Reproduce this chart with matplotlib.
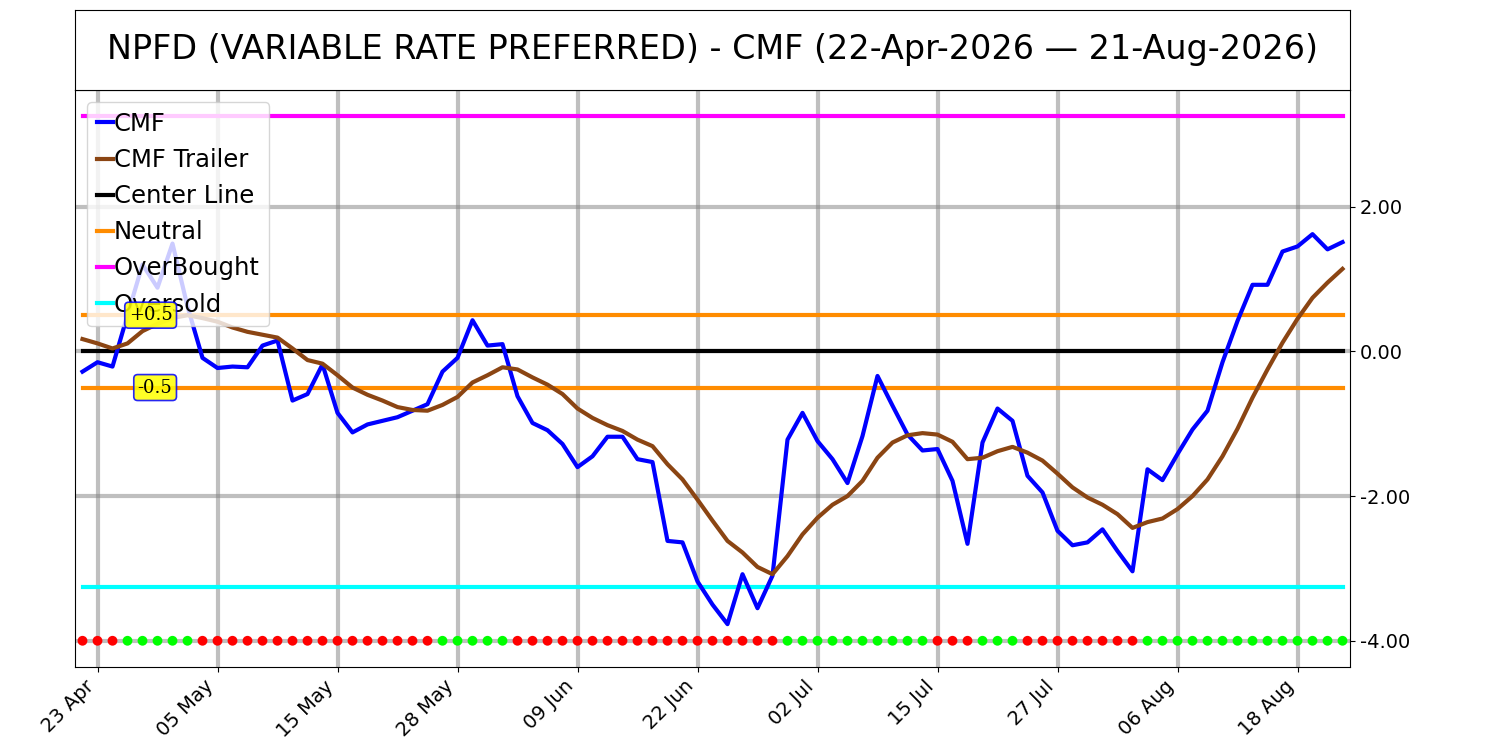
import numpy as np
import pandas as pd
import matplotlib
matplotlib.use("Agg")
import matplotlib.pyplot as plt

# ---------------- data ----------------
start_date = "2026-04-22"
end_date = "2026-08-21"
holidays = ["2026-05-25", "2026-06-19", "2026-07-03"]

cmf = [-0.28, -0.15, -0.21, 0.50, 1.20, 0.88, 1.49, 0.62, -0.09, -0.23,
       -0.21, -0.22, 0.08, 0.15, -0.68, -0.59, -0.18, -0.85, -1.12, -1.01,
       -0.96, -0.91, -0.82, -0.73, -0.28, -0.09, 0.43, 0.08, 0.10, -0.62,
       -0.99, -1.09, -1.28, -1.60, -1.45, -1.18, -1.18, -1.49, -1.53, -2.62,
       -2.64, -3.18, -3.50, -3.77, -3.08, -3.55, -3.10, -1.22, -0.85, -1.24,
       -1.49, -1.82, -1.17, -0.34, -0.75, -1.15, -1.37, -1.35, -1.79, -2.66,
       -1.26, -0.79, -0.96, -1.72, -1.95, -2.48, -2.68, -2.64, -2.46, -2.76,
       -3.04, -1.63, -1.78, -1.42, -1.08, -0.82, -0.15, 0.42, 0.92, 0.92,
       1.38, 1.45, 1.62, 1.41, 1.51]

cmf_trailer = [0.17, 0.11, 0.04, 0.11, 0.28, 0.38, 0.46, 0.50, 0.46, 0.41,
               0.33, 0.27, 0.23, 0.19, 0.04, -0.12, -0.17, -0.33, -0.50, -0.60,
               -0.68, -0.77, -0.81, -0.82, -0.74, -0.63, -0.43, -0.33, -0.22, -0.25,
               -0.36, -0.46, -0.59, -0.79, -0.92, -1.02, -1.10, -1.22, -1.31, -1.56,
               -1.77, -2.05, -2.34, -2.62, -2.78, -2.98, -3.08, -2.83, -2.53, -2.30,
               -2.12, -2.00, -1.79, -1.47, -1.26, -1.16, -1.13, -1.15, -1.25, -1.49,
               -1.47, -1.38, -1.32, -1.40, -1.51, -1.69, -1.88, -2.02, -2.12, -2.25,
               -2.44, -2.36, -2.31, -2.18, -2.00, -1.77, -1.45, -1.07, -0.64, -0.25,
               0.12, 0.45, 0.74, 0.95, 1.14]

# signal dots along the bottom: G = green, R = red
signal = ("RRR" + "GGGGG" + "R" * 16 + "GGGGG" + "R" * 18 + "G" * 10 +
          "RRR" + "GGG" + "R" * 8 + "G" * 14)

center_level = 0.0
neutral_levels = [0.5, -0.5]
overbought_level = 3.25
oversold_level = -3.25
dot_level = -4.0

tick_dates = ["2026-04-23", "2026-05-05", "2026-05-15", "2026-05-28", "2026-06-09",
              "2026-06-22", "2026-07-02", "2026-07-15", "2026-07-27", "2026-08-06",
              "2026-08-18"]
tick_labels = ["23 Apr", "05 May", "15 May", "28 May", "09 Jun", "22 Jun",
               "02 Jul", "15 Jul", "27 Jul", "06 Aug", "18 Aug"]

title = "NPFD (VARIABLE RATE PREFERRED) - CMF (22-Apr-2026 \u2014 21-Aug-2026)"

# ---------------- build ----------------
dates = pd.bdate_range(start_date, end_date, freq="C", holidays=holidays)
x = np.arange(len(dates))
date_pos = {d.strftime("%Y-%m-%d"): i for i, d in enumerate(dates)}
tick_pos = [date_pos[d] for d in tick_dates]

fig = plt.figure(figsize=(15, 7.5), dpi=100)
ax = fig.add_axes([0.05, 1 - 667 / 750, 0.85, (667 - 90) / 750])
tax = fig.add_axes([0.05, 1 - 90 / 750, 0.85, 80 / 750])
tax.set_xticks([])
tax.set_yticks([])
tax.text(0.5, 0.5, title, ha="center", va="center", fontsize=24,
         transform=tax.transAxes)

lw = 3
ax.plot(x, cmf, color="#0000ff", lw=lw, label="CMF", zorder=4)
ax.plot(x, cmf_trailer, color="#8b4513", lw=lw, label="CMF Trailer", zorder=4)
ax.plot(x, np.full(len(x), center_level), color="black", lw=lw,
        label="Center Line", zorder=3)
for k, lv in enumerate(neutral_levels):
    ax.plot(x, np.full(len(x), lv), color="#ff8c00", lw=lw,
            label="Neutral" if k == 0 else None, zorder=3)
ax.plot(x, np.full(len(x), overbought_level), color="#ff00ff", lw=lw,
        label="OverBought", zorder=3)
ax.plot(x, np.full(len(x), oversold_level), color="#00ffff", lw=lw,
        label="Oversold", zorder=3)

dot_colors = ["#00ff00" if s == "G" else "#ff0000" for s in signal]
ax.scatter(x, np.full(len(x), dot_level), c=dot_colors, s=50, zorder=5,
           linewidths=0)

for lv, txt in zip(neutral_levels, ["+0.5", "-0.5"]):
    ax.text(6, lv, txt, ha="right", va="center", fontsize=13,
            family="DejaVu Serif", zorder=10,
            bbox=dict(boxstyle="round,pad=0.22", fc="yellow", ec="blue",
                      alpha=0.85, lw=1.2))

ax.set_xlim(-0.5, len(x) - 0.5)
ax.set_xticks(tick_pos)
ax.set_xticklabels(tick_labels, rotation=45, ha="right", fontsize=14)
ax.set_yticks([2, 0, -2, -4])
ax.yaxis.set_major_formatter(matplotlib.ticker.FormatStrFormatter("%.2f"))
ax.yaxis.tick_right()
ax.tick_params(axis="y", labelsize=14)
ax.grid(True, color="gray", alpha=0.5, lw=3, zorder=0)
ax.set_axisbelow(True)

leg = ax.legend(loc="upper left", fontsize=17.5, handlelength=0.65,
                handletextpad=0.05, borderaxespad=0.5)
leg.set_zorder(6)

fig.savefig("out.png", dpi=100)
